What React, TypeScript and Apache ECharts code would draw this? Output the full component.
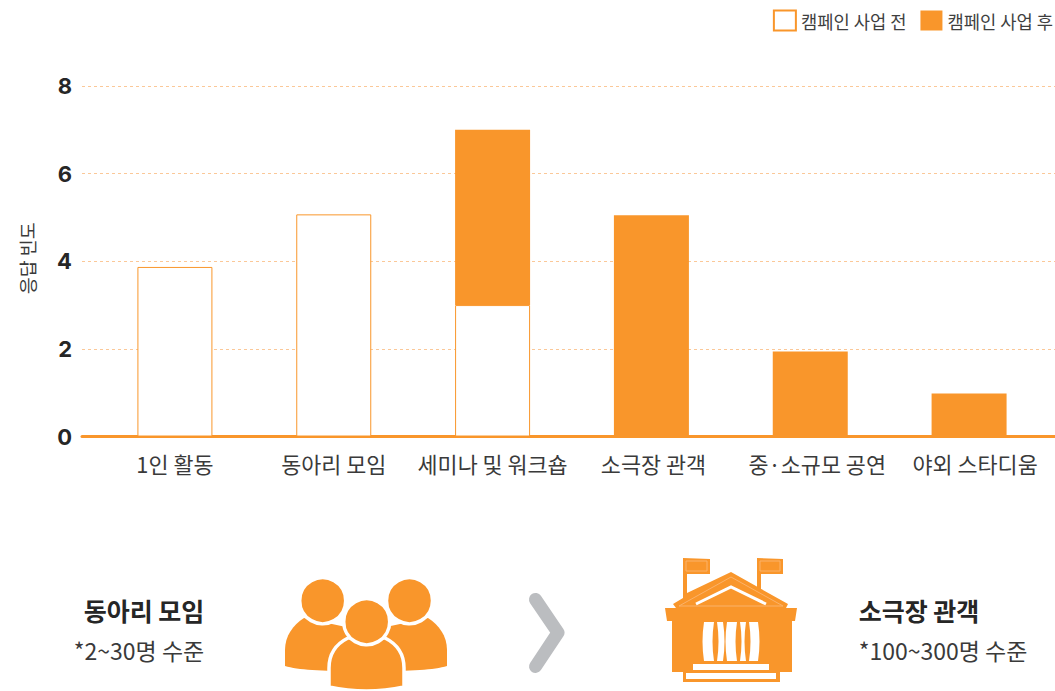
import React, { useEffect, useRef } from "react";
import * as echarts from "echarts";

const categories = ["1인 활동", "동아리 모임", "세미나 및 워크숍", "소극장 관객", "중·소규모 공연", "야외 스타디움"];
const beforeValues = [3.87, 5.07, 3, null, null, null];
const afterValues = [null, null, 4, 5.05, 1.94, 0.98];
const yTicks = { min: 0, max: 8, interval: 2 };
const beforeName = "캠페인 사업 전";
const afterName = "캠페인 사업 후";
const yName = "응답 빈도";

const ORANGE = "#F9962B";
const PALE = "#FBB26A";
const FONT = '"Noto Sans CJK KR", "Noto Sans", sans-serif';
const labelPadLeft = [0, 0, 0, 4, 14, 12];

const P = {
  bodyL: "M285 666 L285 650 C285 636 293 625 304 618 L360 630 L360 671 C320 671 298 670 285 666 Z",
  bodyR: "M447 666 L447 650 C447 636 439 625 428 618 L372 630 L372 671 C412 671 434 670 447 666 Z",
  bodyM: "M329 687 L329 668 C329 654 336 644 348 638 L385 638 C397 644 404 654 404 668 L404 687 C380 692 353 692 329 687 Z",
  building:
    "M683 558 L710 559 L710 574 L687 574 L687 593 L731 572 L788 604 L786 608 L797 608 L795 621 L792 621 L792 672 L780 672 L780 682 L683 682 L683 672 L672 672 L672 621 L667 621 L665 608 L676 608 L673 604 L683 598 Z M757 558 L783 559 L783 574 L761 574 L761 590 L757 588 Z",
  columns:
    "M704 622 L714 622 C712 635 712 648 714 661 L704 661 C702 648 702 635 704 622 Z M717 622 L723 622 C725 635 725 648 723 661 L717 661 C719 648 719 635 717 622 Z M727 622 L737 622 C735 635 735 648 737 661 L727 661 C725 648 725 635 727 622 Z M740 622 L746 622 C744 635 744 648 746 661 L740 661 C742 648 742 635 740 622 Z M749 622 L758 622 C760 635 760 648 758 661 L749 661 C751 648 751 635 749 622 Z",
};
Object.entries(P).forEach(([k, d]) => {
  echarts.graphic.registerShape(k, echarts.graphic.extendPath(d as any, {}));
});

const label = (cx: number, cy: number, text: string, bold: boolean) => ({
  type: "text",
  x: cx,
  y: cy,
  style: {
    text,
    fill: bold ? "#262626" : "#3a3a3a",
    font: `${bold ? 700 : 400} ${bold ? 25 : 23}px ${FONT}`,
    align: "center",
    verticalAlign: "middle",
  },
});
const orange = (type: string) => ({ type, x: 0, y: 0, style: { fill: ORANGE } });
const head = (cx: number, cy: number) => ({
  type: "circle",
  shape: { cx, cy, r: 23 },
  style: { fill: ORANGE, stroke: "#fff", lineWidth: 3.5 },
});

export default function App() {
  const ref = useRef<HTMLDivElement>(null);
  useEffect(() => {
    document.body.style.margin = "0";
    const chart = echarts.init(ref.current!, undefined, { renderer: "svg" });
    chart.setOption({
      animation: false,
      backgroundColor: "#fff",
      textStyle: { fontFamily: FONT },
      legend: {
        right: 2,
        top: 9.5,
        padding: 0,
        icon: "rect",
        itemWidth: 22,
        itemHeight: 20,
        itemGap: 14,
        selectedMode: false,
        textStyle: { fontSize: 17.7, color: "#3f3f3f", fontFamily: FONT, padding: [-1, 0, 0, 0] },
        data: [beforeName, afterName],
      },
      grid: [
        { left: 82, top: 86, width: 973, height: 350.5 },
        { left: 95.5, top: 86, width: 953, height: 350.5 },
      ],
      xAxis: [
        {
          type: "value",
          gridIndex: 0,
          min: 0,
          max: 1,
          axisLine: { show: true, onZero: false, lineStyle: { color: ORANGE, width: 3 } },
          axisTick: { show: false },
          axisLabel: { show: false },
          splitLine: { show: false },
        },
        {
          type: "category",
          gridIndex: 1,
          data: categories.map((value, i) => ({ value, textStyle: { padding: [0, 0, 0, labelPadLeft[i]] } })),
          axisLine: { show: false },
          axisTick: { show: false },
          axisLabel: { fontSize: 21.8, color: "#3a3a3a", margin: 16, interval: 0, fontFamily: FONT },
        },
      ],
      yAxis: [
        {
          type: "value",
          gridIndex: 0,
          ...yTicks,
          name: yName,
          nameLocation: "middle",
          nameGap: 46,
          nameTextStyle: { fontSize: 18.5, color: "#3a3a3a", fontFamily: FONT, padding: [0, 0, 0, 6] },
          axisLine: { show: false },
          axisTick: { show: false },
          axisLabel: { fontSize: 22, fontWeight: 700, color: "#262626", margin: 10, fontFamily: "Inter", padding: [0, 0, 10, 0] },
          splitLine: { show: true, lineStyle: { color: "#FBC898", type: [3, 3], width: 1 } },
        },
        { type: "value", gridIndex: 1, ...yTicks, show: false, splitLine: { show: false } },
      ],
      series: [
        {
          name: beforeName,
          type: "bar",
          xAxisIndex: 1,
          yAxisIndex: 1,
          stack: "total",
          barWidth: 75,
          data: beforeValues,
          itemStyle: { color: "#fff", borderColor: ORANGE, borderWidth: 1 },
        },
        {
          name: afterName,
          type: "bar",
          xAxisIndex: 1,
          yAxisIndex: 1,
          stack: "total",
          barWidth: 75,
          data: afterValues,
          itemStyle: { color: ORANGE },
        },
      ],
      graphic: [
        label(144, 610, "동아리 모임", true),
        label(139, 650, "*2~30명 수준", false),
        label(919, 610, "소극장 관객", true),
        label(943, 650, "*100~300명 수준", false),
        orange("bodyL"),
        orange("bodyR"),
        head(322.7, 600.7),
        head(409.5, 600.7),
        { type: "bodyM", x: 0, y: 0, style: { fill: ORANGE, stroke: "#fff", lineWidth: 3.5 } },
        head(366.7, 621.7),
        {
          type: "polyline",
          shape: { points: [[535.5, 599.5], [558, 632.7], [535.5, 666.5]] },
          style: { stroke: "#BBBDC0", lineWidth: 13, lineCap: "round", lineJoin: "round", fill: "none" },
        },
        orange("building"),
        { type: "rect", shape: { x: 686, y: 561, width: 21, height: 10 }, style: { fill: "none", stroke: PALE, lineWidth: 1 } },
        { type: "rect", shape: { x: 760, y: 561, width: 20, height: 10 }, style: { fill: "none", stroke: PALE, lineWidth: 1 } },
        {
          type: "polyline",
          shape: { points: [[679, 606], [731, 577], [783, 606], [679, 606]] },
          style: { stroke: PALE, lineWidth: 1, fill: "none" },
        },
        { type: "columns", x: 0, y: 0, style: { fill: "#fff" } },
        {
          type: "polyline",
          shape: { points: [[696, 604], [731, 587], [766, 604]] },
          style: { stroke: "#fff", lineWidth: 3, fill: "none" },
        },
        { type: "rect", shape: { x: 693, y: 664, width: 76, height: 6 }, style: { fill: "#fff" } },
        { type: "rect", shape: { x: 686, y: 673, width: 90, height: 6 }, style: { fill: "#fff" } },
      ],
    });
    return () => chart.dispose();
  }, []);
  return <div ref={ref} style={{ width: 1055, height: 691, overflow: "hidden" }} />;
}
